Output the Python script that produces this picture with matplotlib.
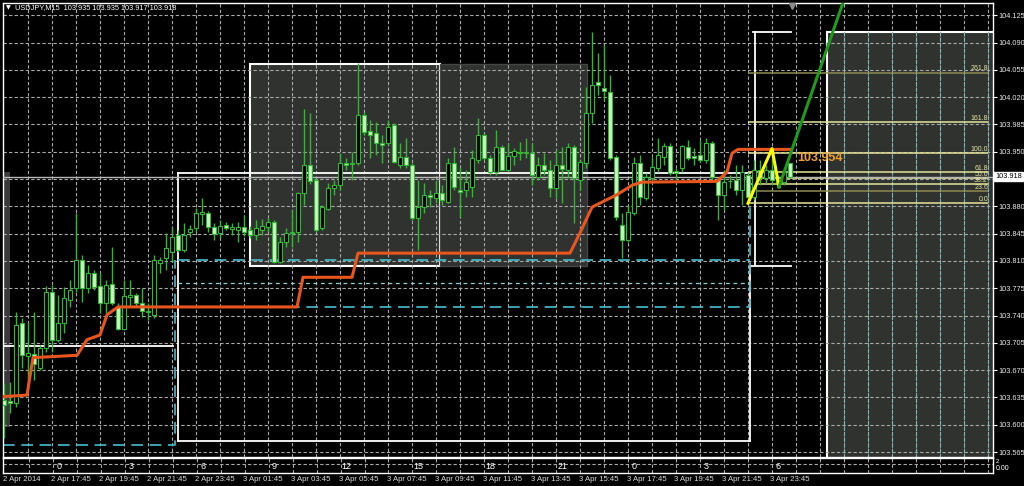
import matplotlib
matplotlib.use("Agg")
import matplotlib.pyplot as plt
from matplotlib.patches import Rectangle
from matplotlib.transforms import blended_transform_factory
import numpy as np

NARROW = ["Liberation Sans", "DejaVu Sans"]

title_text = "USDJPY,M15  103.935 103.935 103.917 103.918"

# ---- candles (15-minute bars, index 0 = 2 Apr 15:45) ----
opens = [103.632, 103.630, 103.628, 103.730, 103.688, 103.691, 103.673, 103.698, 103.770, 103.709,
         103.730, 103.760, 103.775, 103.811, 103.775, 103.795, 103.778, 103.756, 103.780, 103.751,
         103.723, 103.764, 103.766, 103.756, 103.746, 103.741, 103.807, 103.814, 103.821, 103.843,
         103.824, 103.847, 103.852, 103.870, 103.871, 103.853, 103.846, 103.856, 103.851, 103.850,
         103.853, 103.850, 103.843, 103.850, 103.853, 103.860, 103.808, 103.834, 103.846, 103.847,
         103.897, 103.933, 103.914, 103.852, 103.877, 103.903, 103.907, 103.936, 103.934, 103.936,
         103.997, 103.977, 103.974, 103.961, 103.961, 103.984, 103.933, 103.943, 103.933, 103.865,
         103.879, 103.894, 103.891, 103.897, 103.885, 103.936, 103.901, 103.901, 103.905, 103.939,
         103.971, 103.942, 103.924, 103.956, 103.927, 103.945, 103.950, 103.948, 103.948, 103.918,
         103.933, 103.927, 103.903, 103.933, 103.927, 103.956, 103.914, 103.936, 104.000, 104.039,
         104.032, 104.027, 103.943, 103.856, 103.837, 103.871, 103.936, 103.891, 103.916, 103.929,
         103.943, 103.957, 103.925, 103.929, 103.956, 103.945, 103.946, 103.939, 103.961, 103.914,
         103.894, 103.912, 103.914, 103.901, 103.920, 103.892, 103.927, 103.916, 103.927, 103.914,
         103.911, 103.935]
highs = [103.654, 103.655, 103.744, 103.737, 103.732, 103.744, 103.702, 103.778, 103.779, 103.766,
         103.777, 103.786, 103.871, 103.818, 103.805, 103.798, 103.795, 103.786, 103.828, 103.756,
         103.786, 103.786, 103.769, 103.775, 103.756, 103.818, 103.815, 103.846, 103.854, 103.850,
         103.859, 103.856, 103.878, 103.891, 103.874, 103.859, 103.862, 103.860, 103.859, 103.860,
         103.869, 103.855, 103.862, 103.864, 103.865, 103.862, 103.841, 103.852, 103.875, 103.898,
         104.005, 104.000, 103.916, 103.882, 103.910, 103.914, 103.948, 103.942, 103.950, 104.064,
         104.001, 103.991, 103.988, 103.971, 103.991, 103.987, 103.961, 103.968, 103.936, 103.914,
         103.910, 103.901, 103.914, 103.907, 103.942, 103.956, 103.930, 103.927, 103.952, 103.993,
         103.974, 103.946, 103.978, 103.959, 103.961, 103.955, 103.962, 103.968, 103.961, 103.943,
         103.948, 103.939, 103.952, 103.956, 103.961, 103.959, 103.939, 104.033, 104.103, 104.077,
         104.087, 104.048, 103.946, 103.871, 103.882, 103.943, 103.946, 103.923, 103.943, 103.968,
         103.961, 103.961, 103.929, 103.959, 103.965, 103.955, 103.965, 103.968, 103.964, 103.916,
         103.927, 103.920, 103.933, 103.933, 103.924, 103.939, 103.939, 103.933, 103.952, 103.920,
         103.929, 103.935]
lows = [103.583, 103.615, 103.623, 103.673, 103.657, 103.657, 103.670, 103.693, 103.693, 103.706,
        103.718, 103.751, 103.770, 103.757, 103.769, 103.773, 103.743, 103.743, 103.753, 103.721,
        103.721, 103.751, 103.751, 103.738, 103.734, 103.737, 103.795, 103.798, 103.808, 103.821,
        103.821, 103.841, 103.847, 103.856, 103.847, 103.837, 103.839, 103.850, 103.843, 103.834,
        103.842, 103.839, 103.837, 103.843, 103.847, 103.807, 103.807, 103.828, 103.828, 103.834,
        103.882, 103.909, 103.847, 103.850, 103.875, 103.894, 103.901, 103.927, 103.914, 103.933,
        103.971, 103.942, 103.946, 103.936, 103.959, 103.936, 103.929, 103.929, 103.862, 103.824,
        103.871, 103.879, 103.884, 103.882, 103.884, 103.901, 103.866, 103.892, 103.892, 103.936,
        103.939, 103.920, 103.920, 103.927, 103.924, 103.933, 103.939, 103.942, 103.907, 103.914,
        103.920, 103.892, 103.891, 103.884, 103.916, 103.859, 103.901, 103.929, 103.987, 104.023,
        104.016, 103.939, 103.862, 103.814, 103.834, 103.869, 103.882, 103.888, 103.910, 103.924,
        103.933, 103.920, 103.914, 103.924, 103.939, 103.933, 103.937, 103.936, 103.914, 103.862,
        103.875, 103.903, 103.894, 103.882, 103.882, 103.888, 103.907, 103.910, 103.907, 103.905,
        103.907, 103.917]
closes = [103.625, 103.628, 103.728, 103.689, 103.692, 103.678, 103.698, 103.770, 103.709, 103.730,
          103.762, 103.773, 103.811, 103.775, 103.795, 103.777, 103.756, 103.779, 103.756, 103.723,
          103.765, 103.766, 103.756, 103.746, 103.744, 103.811, 103.811, 103.827, 103.841, 103.824,
          103.843, 103.851, 103.871, 103.873, 103.853, 103.844, 103.855, 103.852, 103.853, 103.853,
          103.847, 103.843, 103.852, 103.855, 103.860, 103.808, 103.834, 103.846, 103.847, 103.897,
          103.933, 103.912, 103.850, 103.879, 103.903, 103.907, 103.936, 103.933, 103.936, 103.997,
          103.975, 103.971, 103.961, 103.959, 103.982, 103.937, 103.943, 103.933, 103.865, 103.879,
          103.894, 103.892, 103.897, 103.888, 103.936, 103.905, 103.898, 103.911, 103.942, 103.971,
          103.942, 103.924, 103.956, 103.927, 103.945, 103.951, 103.948, 103.950, 103.920, 103.933,
          103.927, 103.903, 103.933, 103.928, 103.956, 103.916, 103.937, 104.000, 104.036, 104.036,
          104.028, 103.942, 103.866, 103.837, 103.873, 103.936, 103.892, 103.918, 103.930, 103.946,
          103.957, 103.923, 103.923, 103.957, 103.942, 103.942, 103.939, 103.961, 103.918, 103.894,
          103.911, 103.913, 103.901, 103.924, 103.892, 103.927, 103.916, 103.927, 103.914, 103.911,
          103.924, 103.918]

# ---- axes labels ----
price_ticks = [103.565, 103.600, 103.635, 103.670, 103.705, 103.740, 103.775, 103.810, 103.845,
               103.880, 103.915, 103.950, 103.985, 104.020, 104.055, 104.090, 104.125]
price_tick_labels = ["103.565", "103.600", "103.635", "103.670", "103.705", "103.740", "103.775",
                     "103.810", "103.845", "103.880", "", "103.950", "103.985", "104.020",
                     "104.055", "104.090", "104.125"]
time_tick_bars = [0, 8, 16, 24, 32, 40, 48, 56, 64, 72, 80, 88, 96, 104, 112, 120, 128]
time_tick_labels = ["2 Apr 2014", "2 Apr 17:45", "2 Apr 19:45", "2 Apr 21:45", "2 Apr 23:45",
                    "3 Apr 01:45", "3 Apr 03:45", "3 Apr 05:45", "3 Apr 07:45", "3 Apr 09:45",
                    "3 Apr 11:45", "3 Apr 13:45", "3 Apr 15:45", "3 Apr 17:45", "3 Apr 19:45",
                    "3 Apr 21:45", "3 Apr 23:45"]
hour_bars = [9, 21, 33, 45, 57, 69, 81, 93, 105, 117, 129]
hour_labels = ["0", "3", "6", "9", "12", "15", "18", "21", "0", "3", "6"]
bid_price = 103.918

# ---- indicator lines ----
orange_bars = [-0.17, 3.83, 4.83, 12.17, 13.83, 16.0, 17.17, 19.0, 48.83, 49.83, 58.0, 59.0,
               94.33, 96.0, 98.0, 102.17, 104.67, 106.33, 118.83, 120.5, 121.33, 122.33, 131.0]
orange_prices = [103.636, 103.638, 103.686, 103.689, 103.709, 103.715, 103.741, 103.751, 103.751,
                 103.789, 103.789, 103.820, 103.820, 103.846, 103.879, 103.895, 103.907, 103.911,
                 103.912, 103.924, 103.948, 103.953, 103.953]
zigzag_bars = [124.0, 128.0, 129.17]
zigzag_prices = [103.884, 103.954, 103.905]
trend_bars = [129.17, 140.0]
trend_prices = [103.905, 104.145]
marker_label = "103.954"
marker_bar, marker_price = 132.2, 103.942

fib_low, fib_high = 103.884, 103.948
fib_levels = [0.0, 23.6, 38.2, 50.0, 61.8, 100.0, 161.8, 261.8]
fib_labels = ["0.0", "23.6", "38.2", "50.0", "61.8", "100.0", "161.8", "261.8"]
fib_bar_start, fib_bar_end = 124.0, 164.0

# shaded boxes: (bar0, bar1, low, high)
box_bar0 = [41.0, 72.67, 137.2, -0.17]
box_bar1 = [72.67, 97.17, 166.0, 1.0]
box_low = [103.8035, 103.8035, 103.55, 103.597]
box_high = [104.0624, 104.0624, 104.1035, 103.924]

# daily range lines (white) as polylines
white_lines = [
    ([-0.17, 28.2], [103.701, 103.701]),
    ([29.0, 29.0], [103.923, 103.579]),
    ([29.0, 124.3], [103.923, 103.923]),
    ([29.0, 124.3], [103.579, 103.579]),
    ([124.3, 124.3, 125.2, 125.2], [103.579, 103.804, 103.804, 104.1035]),
    ([124.8, 131.1], [104.1035, 104.1035]),
    ([125.2, 131.1], [103.804, 103.804]),
]
cyan_lines = [
    ([-0.17, 28.5, 28.5], [103.574, 103.574, 103.811]),
    ([29.0, 124.3], [103.811, 103.811]),
    ([29.0, 124.3, 124.3], [103.751, 103.751, 103.890]),
]
cyan_thin = ([29.0, 124.3], [103.782, 103.782])

# ================= drawing =================
W, H = 1024, 486
fig = plt.figure(figsize=(W / 100, H / 100), dpi=100, facecolor="black")
ax = fig.add_axes([3 / W, 1 - 457 / H, 990 / W, 454 / H])
ax.set_facecolor("black")
XL = (-0.17, 164.83)
ax.set_xlim(*XL)
ax.set_ylim(103.5586, 104.1407)

# boxes
box_face = ["#2f322f", "#2f322f", "#2f322f", "#3a3a3a"]
box_edge = ["white", "#454545", "white", "none"]
box_lw = [1.5, 1.0, 1.5, 0]
for b0, b1, lo, hi, fc, ec, lw in zip(box_bar0, box_bar1, box_low, box_high, box_face, box_edge, box_lw):
    ax.add_patch(Rectangle((b0, lo), b1 - b0, hi - lo, facecolor=fc, edgecolor=ec, lw=lw, zorder=0.5))

# grid
gridc = "#a8a8a8"
dash = (0, (3, 2))
for p in price_ticks:
    ax.axhline(p, color=gridc, lw=0.8, ls=dash, zorder=1)
grid_bars = list(range(4, 165, 4))
for k in grid_bars:
    ax.axvline(k, color=gridc, lw=0.8, ls=dash, zorder=1)
    if k > box_bar0[2]:
        ax.vlines(k, box_low[2], box_high[2], color="#78b4b4", lw=0.8, ls=dash, zorder=1.1)

# range lines
for xs, ys in white_lines:
    ax.plot(xs, ys, color="white", lw=1.3, zorder=2)
for xs, ys in cyan_lines:
    ax.plot(xs, ys, color="#46bfcc", lw=1.2, ls=(0, (7, 4)), zorder=2)
ax.plot(*cyan_thin, color="#8fd0d8", lw=0.9, ls=(0, (3, 3)), zorder=2)

# fibonacci
for lvl, lab in zip(fib_levels, fib_labels):
    fp = fib_low + lvl / 100.0 * (fib_high - fib_low)
    col = "#8c8c52" if lab in ("261.8", "23.6") else "#e4e49a"
    ax.hlines(fp, fib_bar_start, fib_bar_end, color=col, lw=1.1, zorder=2.5)
    ax.text(fib_bar_end, fp + 0.0007, lab, ha="right", va="bottom", fontsize=5.0,
            color="#e6e6a0", family=NARROW, zorder=6)

# bid line
ax.axhline(bid_price, color="#b8b8b8", lw=1.0, zorder=2.6)

# candles
o = np.array(opens); h = np.array(highs); l = np.array(lows); c = np.array(closes)
x = np.arange(len(o))
wick = "#30b830"
ax.vlines(x, l, h, color=wick, lw=1.0, zorder=3)
bottoms = np.minimum(o, c)
heights = np.maximum(np.abs(c - o), 0.0009)
fills = np.where(c < o, "#c8f2c0", "#000000")
ax.bar(x, heights, bottom=bottoms, width=0.66, color=fills, edgecolor=wick, lw=0.8, zorder=3.1)

# orange stop line
ax.plot(orange_bars, orange_prices, color="#e8561e", lw=2.2, zorder=4, solid_joinstyle="round")

# zigzag and trend
ax.plot(zigzag_bars, zigzag_prices, color="#ffff00", lw=2.2, zorder=5)
ax.plot(trend_bars, trend_prices, color="#1e9a1e", lw=2.2, zorder=5)
ax.text(marker_bar, marker_price, marker_label, color="#f0a030", fontsize=9, fontweight="bold",
        family=["Liberation Sans", "DejaVu Sans"], va="center", ha="left", zorder=6)

# frame and axis
for s in ax.spines.values():
    s.set_color("white"); s.set_linewidth(1.0)
ax.set_xticks([])
ax.yaxis.tick_right()
ax.set_yticks(price_ticks)
ax.set_yticklabels(price_tick_labels, fontsize=5.3, color="#e8e8e8", family=NARROW)
ax.tick_params(axis="y", length=3, width=0.8, color="white", pad=1.2)
tr = blended_transform_factory(ax.transAxes, ax.transData)
ax.text(1.002, bid_price, "103.918", transform=tr, fontsize=5.3, color="black", family=NARROW,
        va="center", ha="left", bbox=dict(facecolor="white", edgecolor="white", pad=0.6), zorder=7,
        clip_on=False)
ax.plot([131.3], [104.137], marker="v", color="#8c8c8c", ms=4, zorder=7, clip_on=False)

# sub-window
ax2 = fig.add_axes([3 / W, 1 - 473 / H, 990 / W, 15 / H])
ax2.set_facecolor("black")
ax2.set_xlim(*XL)
ax2.set_ylim(0, 1)
for s in ax2.spines.values():
    s.set_color("white"); s.set_linewidth(1.0)
for k in grid_bars:
    ax2.axvline(k, color=gridc, lw=0.8, ls=dash)
ax2.axhline(0.6, color=gridc, lw=0.8, ls=dash)
for k, lab in zip(hour_bars, hour_labels):
    ax2.text(k, 0.45, lab, color="white", fontsize=6.5, family=NARROW, ha="center", va="center")
ax2.set_yticks([])
ax2.set_xticks([k - 0.3 for k in time_tick_bars])
ax2.set_xticklabels(time_tick_labels, fontsize=5.6, color="#dcdcdc", family=NARROW, ha="left")
ax2.tick_params(axis="x", length=0, pad=2.2)
fig.text(996 / W, 1 - 461 / H, "2", fontsize=4.2, color="white", family=NARROW, va="center")
fig.text(996 / W, 1 - 468 / H, "0.00", fontsize=5.0, color="white", family=NARROW, va="center")

# title
fig.text(6 / W, 1 - 8 / H, "\u25bc", fontsize=4.5, color="white", va="center",
         family=["DejaVu Sans"])
fig.text(15 / W, 1 - 8 / H, title_text, fontsize=5.3, color="white", va="center", family=NARROW)

fig.savefig("out.png", dpi=100, facecolor="black")
